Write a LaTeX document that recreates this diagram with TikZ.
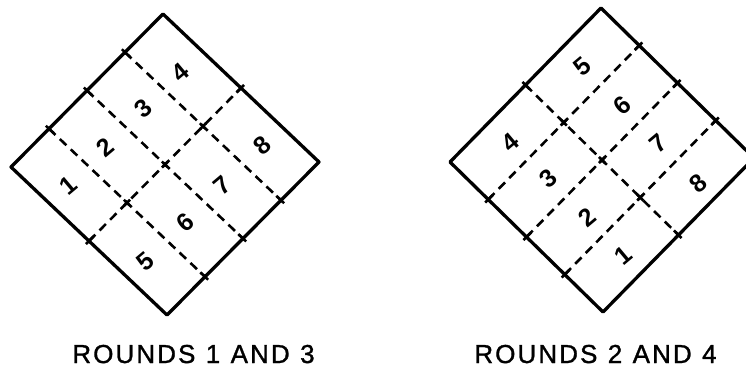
\documentclass[tikz,border=0pt]{standalone}
\usepackage{fontspec}
\setmainfont{Liberation Sans}
\begin{document}
\begin{tikzpicture}[x=1pt,y=-1pt,
  border/.style={line width=3.3pt, line join=round, line cap=round},
  divline/.style={line width=2.6pt, dash pattern=on 9pt off 6pt},
  tickmark/.style={line width=2.6pt},
  digit/.style={font=\fontsize{25}{25}\selectfont\bfseries, rotate=40, inner sep=0pt},
  caption/.style={font=\fontsize{26}{26}\selectfont\addfontfeature{LetterSpace=8,FakeBold=1.2}, anchor=base, inner sep=0pt}]
\useasboundingbox (0,0) rectangle (746,369);
\clip (0,0) rectangle (746,369);
\fill[white] (0,0) rectangle (746,369);

% ---------- left diamond ----------
\begin{scope}[shift={(11,167)}, x={(152pt,153pt)}, y={(156pt,-148pt)}]
  \coordinate (aL) at (0,0);
  \coordinate (aT) at (1,0);
  \coordinate (aR) at (1,1);
  \coordinate (aB) at (0,1);
  \foreach \u in {0.25,0.5,0.75} {
    \draw[divline] (\u,0) -- (\u,1);
    \draw[tickmark] (\u,-0.02) -- (\u,0.03);
    \draw[tickmark] (\u,0.97) -- (\u,1.02);
    \draw[tickmark] (\u-0.02,0.5) -- (\u+0.02,0.5);
    \draw[tickmark] (\u,0.48) -- (\u,0.52);
  }
  \draw[divline] (0,0.5) -- (1,0.5);
  \draw[tickmark] (-0.02,0.5) -- (0.03,0.5);
  \draw[tickmark] (0.97,0.5) -- (1.02,0.5);
  \draw[border] (aL) -- (aT) -- (aR) -- (aB) -- cycle;
\end{scope}

% ---------- right diamond ----------
\begin{scope}[shift={(450,162)}, x={(151pt,154pt)}, y={(153pt,-150pt)}]
  \coordinate (bL) at (0,0);
  \coordinate (bT) at (1,0);
  \coordinate (bR) at (1,1);
  \coordinate (bB) at (0,1);
  \foreach \v in {0.25,0.5,0.75} {
    \draw[divline] (0,\v) -- (1,\v);
    \draw[tickmark] (-0.02,\v) -- (0.03,\v);
    \draw[tickmark] (0.97,\v) -- (1.02,\v);
    \draw[tickmark] (0.5,\v-0.02) -- (0.5,\v+0.02);
    \draw[tickmark] (0.48,\v) -- (0.52,\v);
  }
  \draw[divline] (0.5,0) -- (0.5,1);
  \draw[tickmark] (0.5,-0.02) -- (0.5,0.03);
  \draw[tickmark] (0.5,0.97) -- (0.5,1.02);
  \draw[border] (bL) -- (bT) -- (bR) -- (bB) -- cycle;
\end{scope}

% ---------- digits, left ----------
\node[digit] (a1) at (68,185) {1};
\node[digit] (a2) at (105,147) {2};
\node[digit] (a3) at (143,108) {3};
\node[digit] (a4) at (180,72) {4};
\node[digit] (a5) at (145,262) {5};
\node[digit] (a6) at (185,222) {6};
\node[digit] (a7) at (222,185) {7};
\node[digit] (a8) at (262,145) {8};

% ---------- digits, right ----------
\node[digit] (b1) at (623,255) {1};
\node[digit] (b2) at (587,217) {2};
\node[digit] (b3) at (548,178) {3};
\node[digit] (b4) at (510,142) {4};
\node[digit] (b5) at (582,67) {5};
\node[digit] (b6) at (622,105) {6};
\node[digit] (b7) at (658,143) {7};
\node[digit] (b8) at (698,183) {8};

% ---------- captions ----------
\node[caption] (cap1) at (193.5,363) {ROUNDS\hspace{0.4em}1\hspace{0.4em}AND\hspace{0.4em}3};
\node[caption] (cap2) at (595.5,363) {ROUNDS\hspace{0.4em}2\hspace{0.4em}AND\hspace{0.4em}4};
\end{tikzpicture}
\end{document}
